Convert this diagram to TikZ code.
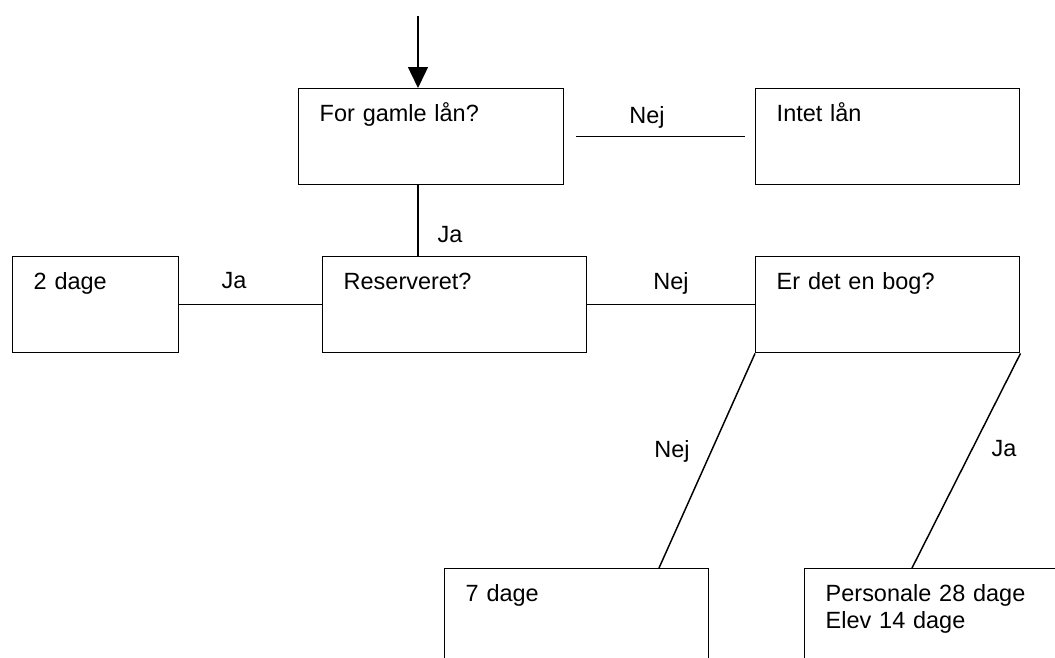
\documentclass[tikz,border=0pt]{standalone}
\usepackage{fontspec}
\setmainfont{Liberation Sans}
\usetikzlibrary{arrows.meta}

\begin{document}
\begin{tikzpicture}[
    x=0.75pt, y=-0.75pt,
    line width=1.1pt,
    box/.style={draw, anchor=north west, inner xsep=15.75pt, inner ysep=0pt, text height=24.75pt, text depth=47.25pt, text width=166.5pt, align=left, font=\fontsize{17.6}{20.25}\selectfont},
    lbl/.style={anchor=base, inner sep=0pt, font=\fontsize{17.6}{20.25}\selectfont}
  ]
  \useasboundingbox (0,0) rectangle (1055,657);
  \clip (0,0) rectangle (1055,657);

  \node[box, text width=167.25pt] (old) at (298,88) {For gamle lån?};
  \node[box] (none) at (755,88) {Intet lån};
  \node[box, text width=93pt] (two) at (12,256) {2 dage};
  \node[box] (res) at (322,256) {Reserveret?};
  \node[box] (book) at (755,256) {Er det en bog?};
  \node[box] (seven) at (444,568) {7 dage};
  \node[box] (staff) at (804,568) {Personale 28 dage\\Elev 14 dage};

  % answers
  \node[lbl] (nejold) at (647,123) {Nej};
  \node[lbl] (jaold) at (450,242) {Ja};
  \node[lbl] (jares) at (234,288) {Ja};
  \node[lbl] (nejres) at (671,289) {Nej};
  \node[lbl] (nejbook) at (672,457) {Nej};
  \node[lbl] (jabook) at (1004,456) {Ja};

  \coordinate (in) at (418,16);
  \coordinate (nejend) at (659,568);
  \coordinate (jaend) at (912,568);

  \draw[-{Triangle[length=15.75pt,width=15pt]}] (in) -- (in |- old.north);
  \draw ([xshift=9pt]old.east) -- ([xshift=-7.5pt]none.west);
  \draw (in |- old.south) -- (in |- res.north);
  \draw (two.east) -- (res.west);
  \draw (res.east) -- (book.west);
  \draw (book.south west) -- (nejend);
  \draw (book.south east) -- (jaend);
\end{tikzpicture}
\end{document}
